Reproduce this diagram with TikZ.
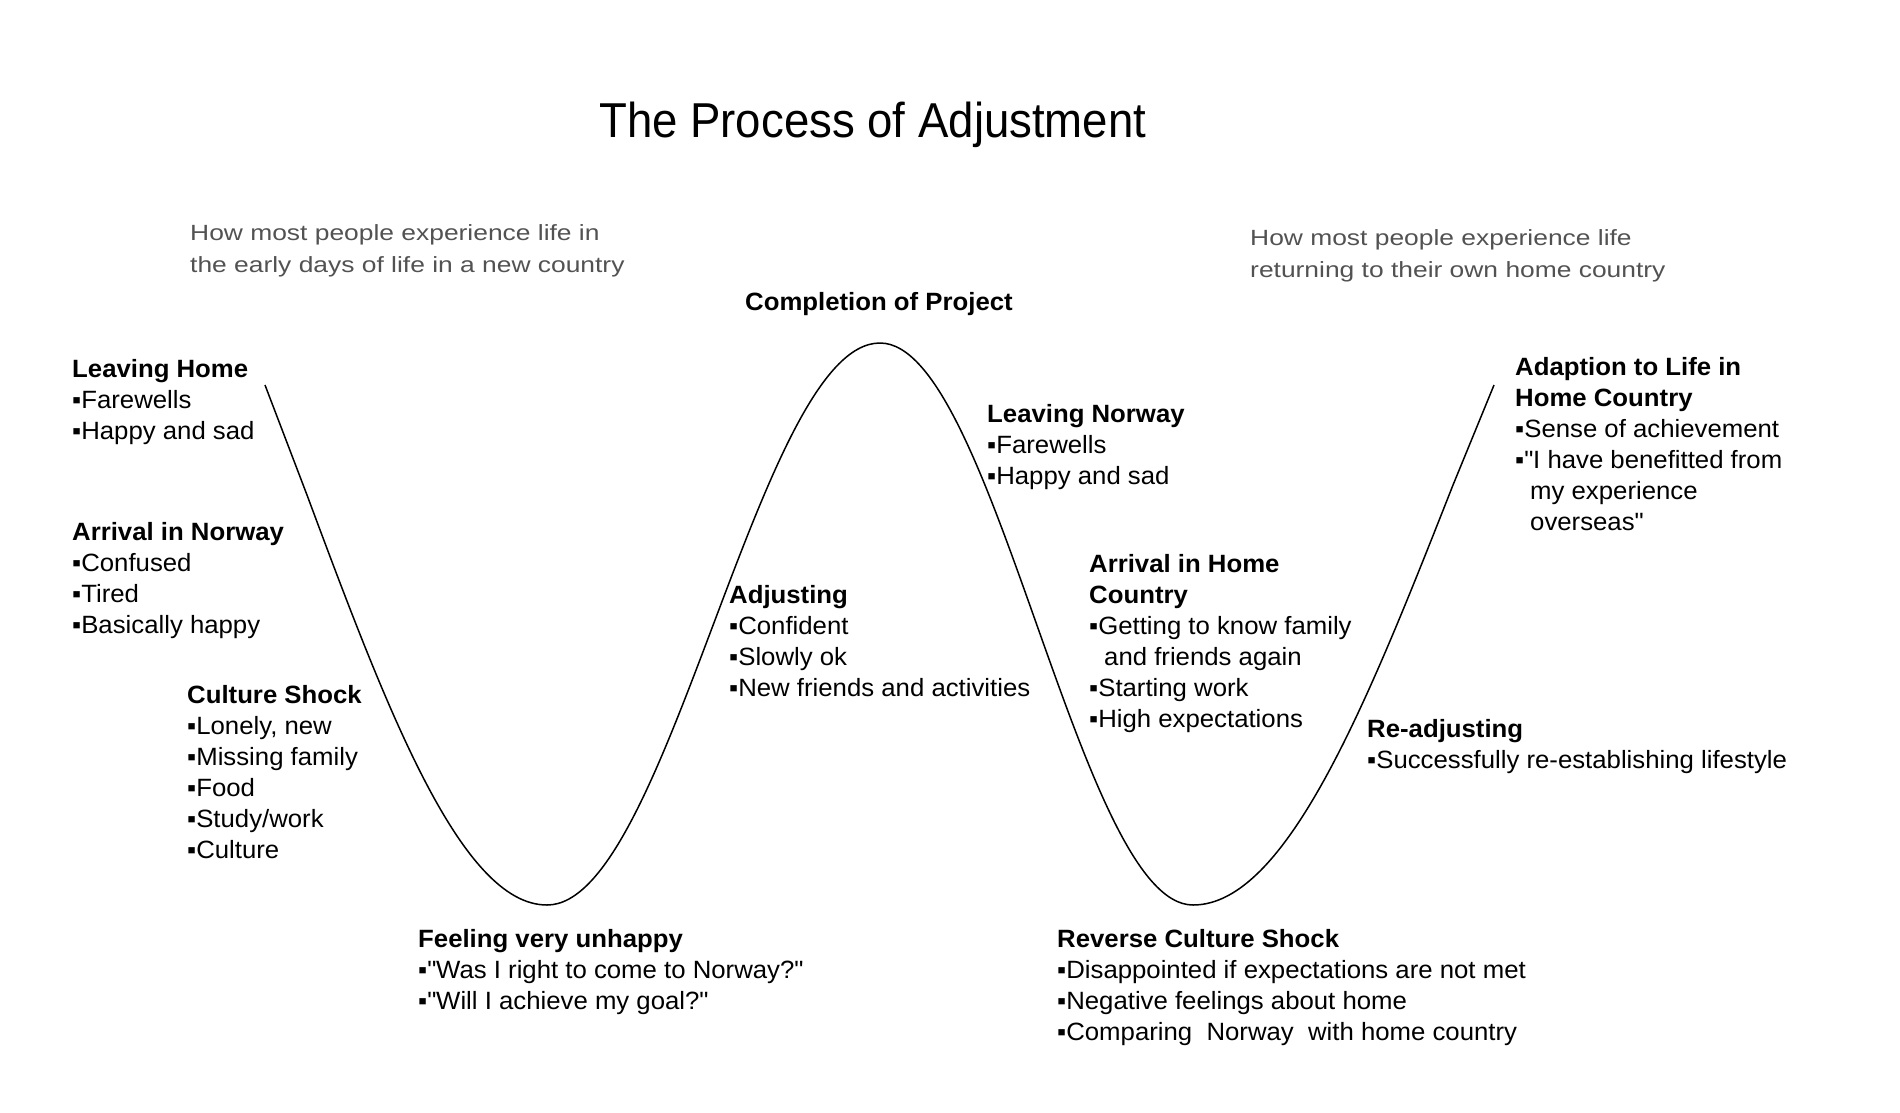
\documentclass[tikz,border=0pt]{standalone}
\usepackage{fontspec}
\setmainfont[FakeStretch=1.03]{Liberation Sans}
\newfontfamily\notefont[FakeStretch=1.2]{Liberation Sans}
\newfontfamily\titlefont[FakeStretch=0.93]{Liberation Sans}
\begin{document}
\begin{tikzpicture}[x=1pt,y=-1pt,line join=round,
	txt/.style={anchor=north west,align=left,inner sep=0pt,font=\fontsize{25}{31}\selectfont},
	note/.style={anchor=north west,align=left,inner sep=0pt,text=black!68,font=\notefont\fontsize{22}{32}\selectfont}]
	\useasboundingbox (0,0) rectangle (1900,1112);
	\path
	(265,385)coordinate(A)
	(307,495)coordinate(I)
	(547,905)coordinate(B)
	(713.5,624)coordinate(M)
	(880,343)coordinate(C)
	(1036.5,624)coordinate(N)
	(1193,905)coordinate(D)
	(1453,485)coordinate(J)
	(1494,385)coordinate(E)
	;
	% the adjustment curve: down, up to the peak, down again, up
	\draw[line width=1.5pt] (A)--(I) sin (B) cos (M) sin (C) cos (N) sin (D) cos (J)--(E);
	% headings over the curve
	\node[anchor=base west,inner sep=0pt,font=\titlefont\fontsize{49}{55}\selectfont] (title) at (599,137) {The Process of Adjustment};
	\node[note] (early) at (190,224) {How most people experience life in\\the early days of life in a new country};
	\node[note] (return) at (1250,229) {How most people experience life\\returning to their own home country};
	% stages, placed by the top of their first line
	\node[txt] (leavehome) at (72,359) {\textbf{Leaving Home}\\▪Farewells\\▪Happy and sad};
	\node[txt] (arrive) at (72,522) {\textbf{Arrival in Norway}\\▪Confused\\▪Tired\\▪Basically happy};
	\node[txt] (shock) at (187,685) {\textbf{Culture Shock}\\▪Lonely, new\\▪Missing family\\▪Food\\▪Study/work\\▪Culture};
	\node[txt] (unhappy) at (418,929) {\textbf{Feeling very unhappy}\\▪\textquotedbl Was I right to come to Norway?\textquotedbl\\▪\textquotedbl Will I achieve my goal?\textquotedbl};
	\node[txt] (project) at (745,292) {\textbf{Completion of Project}};
	\node[txt] (adjust) at (729,585) {\textbf{Adjusting}\\▪Confident\\▪Slowly ok\\▪New friends and activities};
	\node[txt] (leavenor) at (987,404) {\textbf{Leaving Norway}\\▪Farewells\\▪Happy and sad};
	\node[txt] (arrivehome) at (1089,554) {\textbf{Arrival in Home}\\\textbf{Country}\\▪Getting to know family\\\hspace*{15pt}and friends again\\▪Starting work\\▪High expectations};
	\node[txt] (revshock) at (1057,929) {\textbf{Reverse Culture Shock}\\▪Disappointed if expectations are not met\\▪Negative feelings about home\\▪Comparing~ Norway~ with home country};
	\node[txt] (readjust) at (1367,719) {\textbf{Re-adjusting}\\▪Successfully re-establishing lifestyle};
	\node[txt] (adapt) at (1515,357) {\textbf{Adaption to Life in}\\\textbf{Home Country}\\▪Sense of achievement\\▪\textquotedbl I have benefitted from\\\hspace*{15pt}my experience\\\hspace*{15pt}overseas\textquotedbl};
\end{tikzpicture}
\end{document}
